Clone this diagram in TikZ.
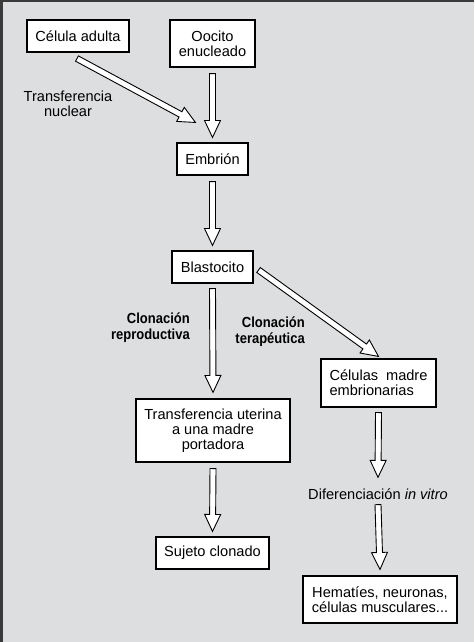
\documentclass[tikz,border=0pt]{standalone}
\usepackage{fontspec}
\setmainfont{Liberation Sans}
\newfontfamily\condbold[FakeStretch=0.89,BoldFont={Liberation Sans Bold}]{Liberation Sans}
\usetikzlibrary{calc}
\definecolor{bgc}{HTML}{DDDEE0}
\definecolor{framec}{HTML}{3A3A3A}
\tikzset{
  box/.style={draw=black, fill=white, line width=1.1pt, inner sep=0pt, align=center,
    font=\fontsize{14.6}{15}\selectfont},
  lbl/.style={inner sep=0pt, font=\fontsize{14.6}{15}\selectfont},
  blbl/.style={inner sep=0pt, align=right, font=\condbold\bfseries\fontsize{14.6}{16}\selectfont},
  harr/.style={draw=black, fill=white, line width=0.9pt, line join=miter}
}
\newcommand{\harrow}[2]{%
  \coordinate (hA) at #1;
  \coordinate (hB) at #2;
  \coordinate (hC) at ($(hB)!17pt!(hA)$);
  \draw[harr] ($(hA)!3pt!90:(hB)$) -- ($(hC)!3pt!-90:(hA)$) -- ($(hC)!8pt!-90:(hA)$)
    -- (hB) -- ($(hC)!8pt!90:(hA)$) -- ($(hC)!3pt!90:(hA)$) -- ($(hA)!3pt!-90:(hB)$) -- cycle;}
\begin{document}
\begin{tikzpicture}[x=1pt,y=-1pt]
\useasboundingbox (0,0) rectangle (474,642);
\fill[bgc] (0,0) rectangle (474,642);
\fill[framec] (0,0) rectangle (474,2.5);
\fill[framec] (0,0) rectangle (2.5,642);

\node[box, minimum width=102pt, minimum height=32pt] (celula) at (78,36) {Célula adulta};
\node[box, minimum width=85pt, minimum height=47pt] (oocito) at (212.5,43.5) {Oocito\\enucleado};
\node[box, minimum width=71pt, minimum height=32pt] (embrion) at (212.5,159) {Embrión};
\node[box, minimum width=81pt, minimum height=32pt] (blasto) at (212.5,267) {Blastocito};
\node[box, minimum width=154pt, minimum height=63pt] (transfer) at (213,430.5) {Transferencia uterina\\a una madre\\portadora};
\node[box, minimum width=113pt, minimum height=32pt] (sujeto) at (212.5,553) {Sujeto clonado};
\node[box, minimum width=115pt, minimum height=48pt, align=left] (celulas) at (378.5,383) {\makebox[98pt][s]{Células madre}\\embrionarias};
\node[box, minimum width=154pt, minimum height=47pt] (hemat) at (380,599.5) {Hematíes, neuronas,\\células musculares...};

\node[lbl, align=center] (tnuc) at (68,104) {Transferencia\\nuclear};
\node[blbl, anchor=east] (crep) at (190,328) {Clonación\\reproductiva};
\node[blbl, anchor=east] (cter) at (305,332) {Clonación\\terapéutica};
\node[lbl] (difer) at (378,494) {Diferenciación \textit{in vitro}};

\harrow{($(oocito.south)+(0,6)$)}{($(embrion.north)+(0,-5)$)}
\harrow{($(celula.south)+(-1,6)$)}{($(embrion.north west)+(19,-20)$)}
\harrow{($(embrion.south)+(0,6)$)}{($(blasto.north)+(0,-5)$)}
\harrow{($(blasto.south)+(0,5)$)}{($(transfer.north)+(0,-6)$)}
\harrow{($(blasto.east)+(5,3)$)}{($(celulas.north)+(0,-2)$)}
\harrow{($(transfer.south)+(0,6)$)}{($(sujeto.north)+(0,-5)$)}
\harrow{($(celulas.south)+(0,5)$)}{($(difer.north)+(0,-11)$)}
\harrow{($(difer.south)+(0,5)$)}{($(hemat.north)+(0,-6)$)}
\end{tikzpicture}
\end{document}
